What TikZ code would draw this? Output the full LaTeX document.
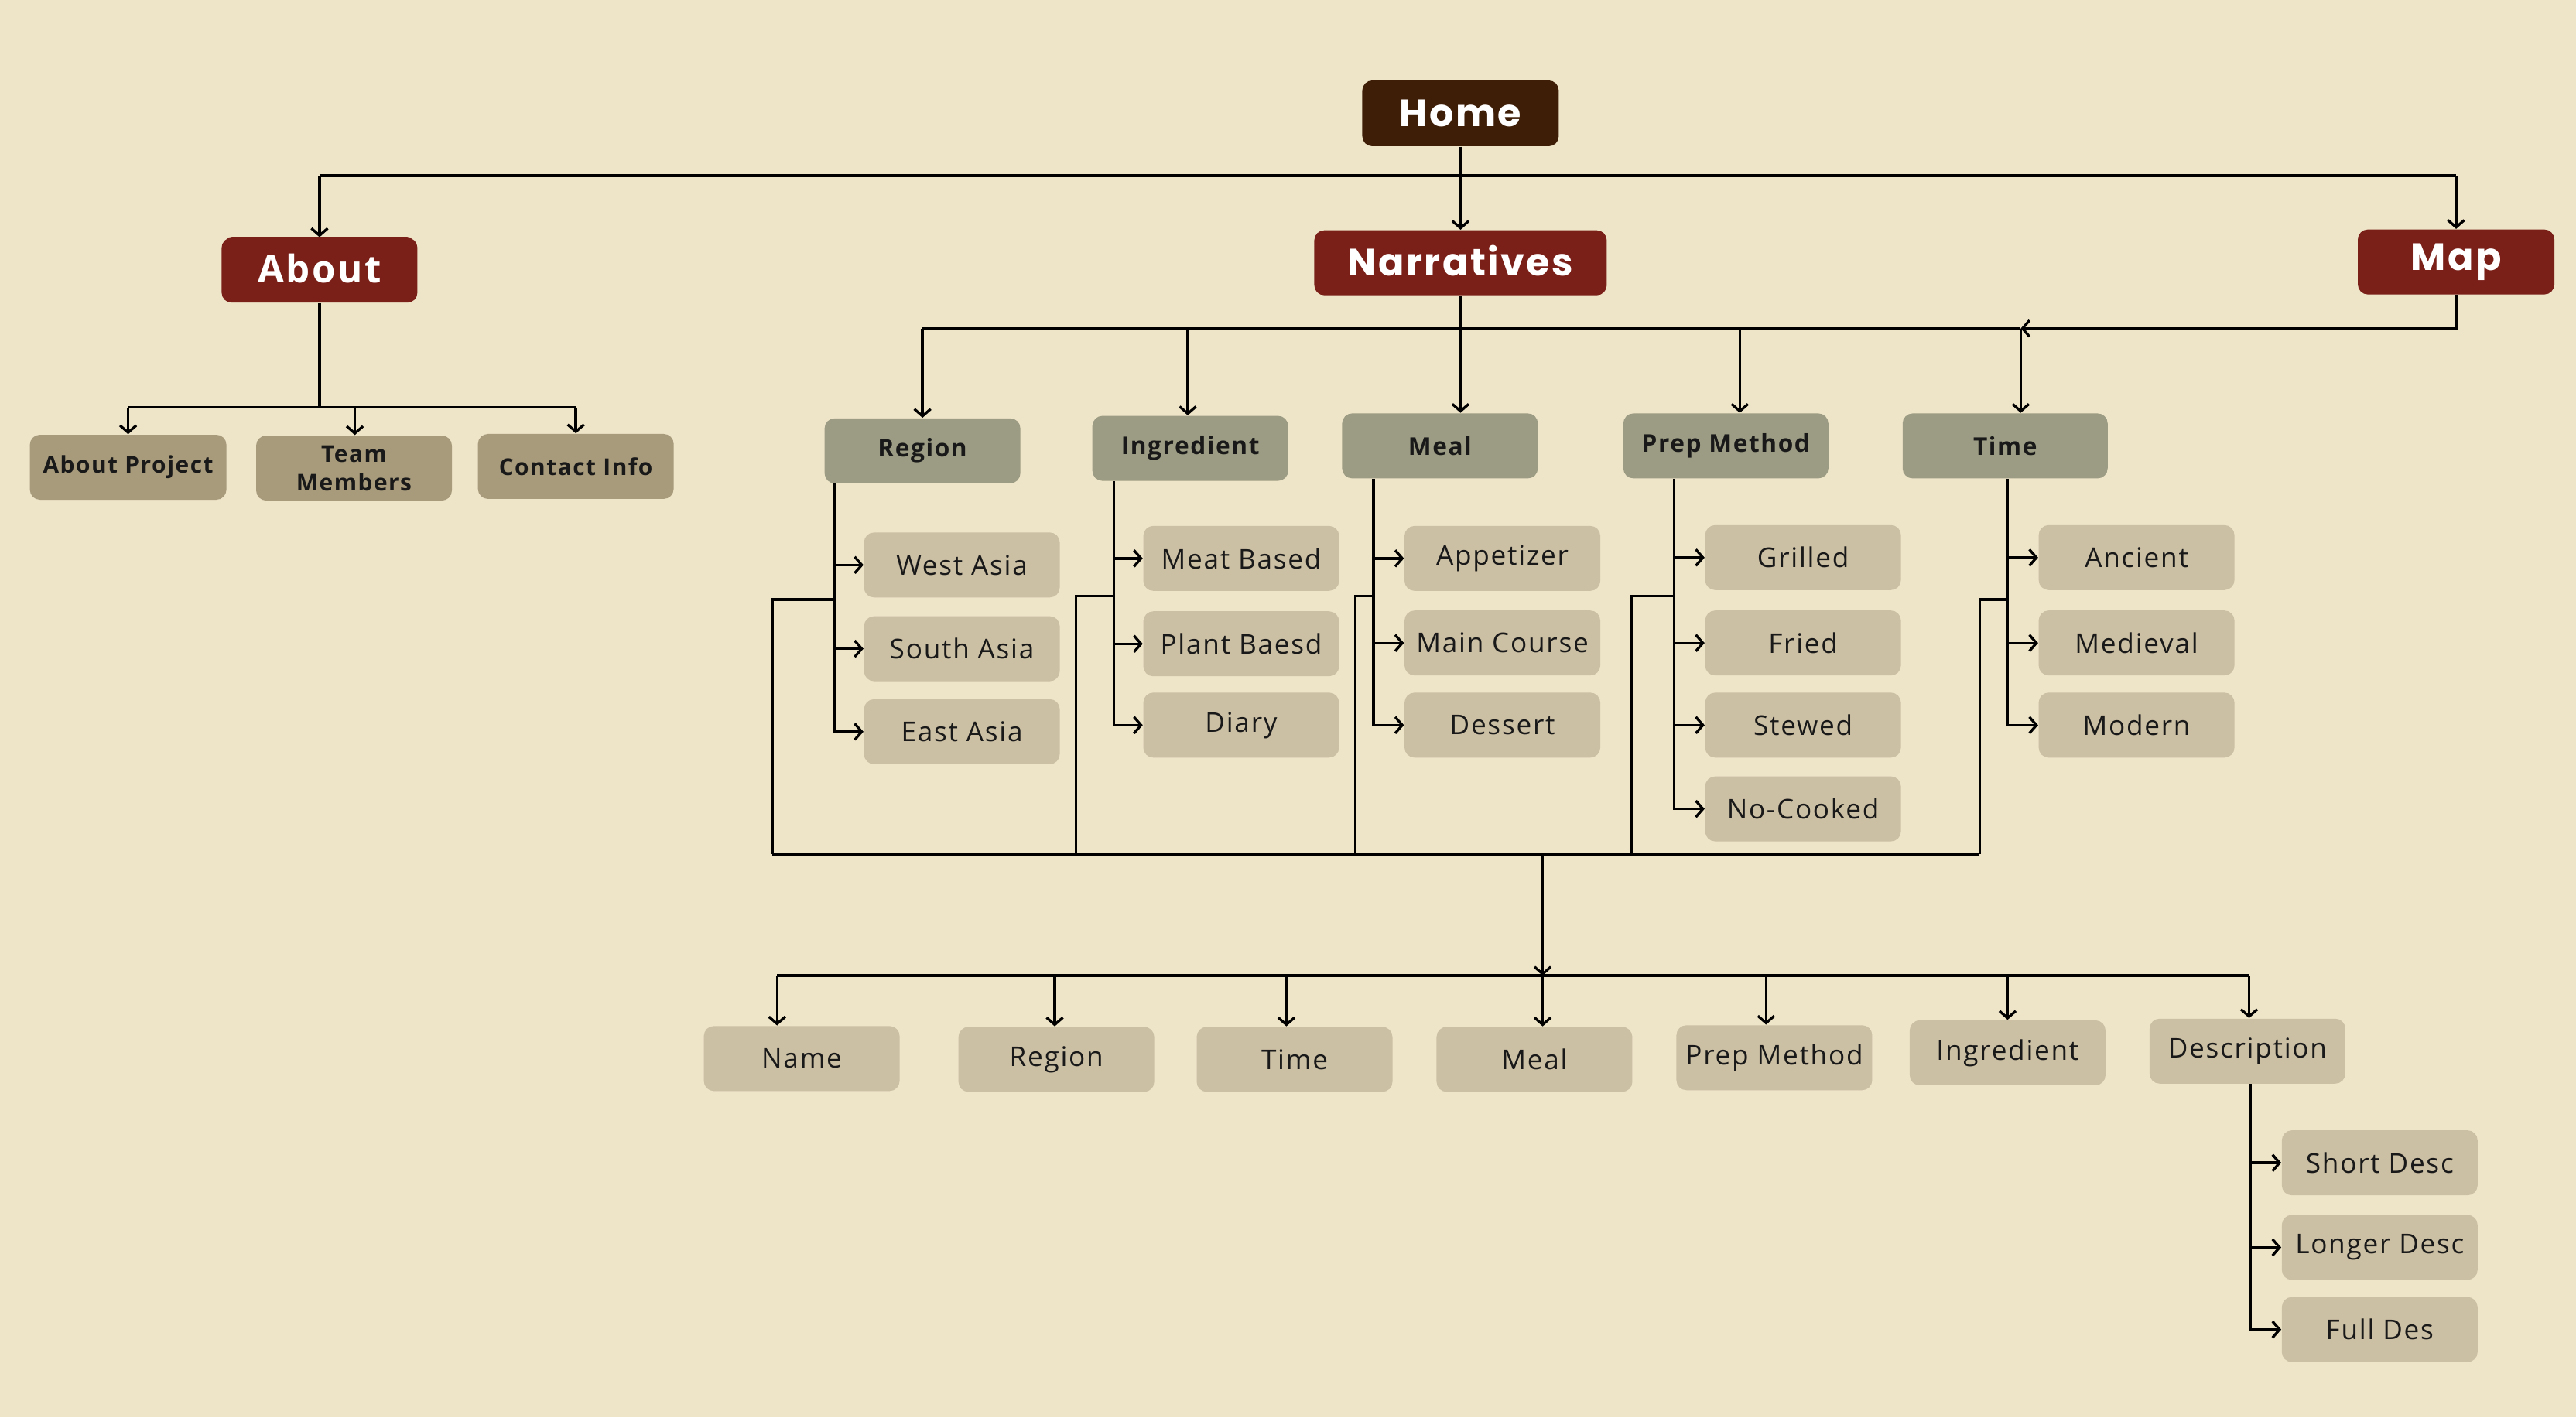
\documentclass[tikz,border=0pt]{standalone}
\usepackage{fontspec}
\setmainfont{Open Sans}
\newfontfamily\popf{Poppins}[LetterSpace=5]
\newfontfamily\opf{Open Sans}[LetterSpace=5]
\usetikzlibrary{arrows.meta,calc}
\definecolor{bgc}{HTML}{EEE4C8}
\definecolor{homec}{HTML}{3F1E08}
\definecolor{maroonc}{HTML}{7A2019}
\definecolor{lvtwo}{HTML}{9C9C84}
\definecolor{aboutc}{HTML}{A89B7C}
\definecolor{subc}{HTML}{CBBFA4}
\begin{document}
\begin{tikzpicture}[x=0.21231mm,y=-0.21231mm,
  box/.style={rounded corners=1.3mm, minimum width=25.4mm, minimum height=8.4mm, inner sep=0pt, align=center},
  homebox/.style={box, fill=homec, text=white, minimum height=8.5mm, font=\popf\bfseries\fontsize{14}{16}\selectfont},
  topbox/.style={box, fill=maroonc, text=white, font=\popf\bfseries\fontsize{14}{16}\selectfont},
  aboutbox/.style={box, fill=maroonc, text=white, font=\opf\bfseries\fontsize{14}{16}\selectfont},
  catbox/.style={box, fill=lvtwo, text=black!90, font=\opf\bfseries\fontsize{9}{11}\selectfont},
  abchild/.style={box, fill=aboutc, text=black!90, font=\opf\bfseries\fontsize{8.5}{10.5}\selectfont},
  subbox/.style={box, fill=subc, text=black!90, minimum width=25.3mm, font=\opf\fontsize{10}{12}\selectfont},
  ln/.style={line width=0.95pt, draw=black},
  arr/.style={ln, -{Straight Barb[length=2.6pt,width=6pt]}}
]
\fill[bgc] (0,0) rectangle (1568,863);
\useasboundingbox (0,0) rectangle (1568,863);

% top level
\node[homebox] (home) at (889,69) {Home};
\node[aboutbox, minimum width=25.3mm] (about) at (194.5,164.5) {\raisebox{1.2pt}{About}};
\node[topbox, minimum width=37.8mm] (narr) at (889,160) {\raisebox{1.5pt}{Narratives}};
\node[topbox] (map) at (1495,159.5) {\raisebox{1.5pt}{Map}};

% about children
\node[abchild] (aproj) at (78,284.5) {\raisebox{-2pt}{About Project}};
\node[abchild, minimum width=25.3mm] (ateam) at (215.5,285) {Team\\Members};
\node[abchild, minimum width=25.3mm] (acont) at (350.5,284) {Contact Info};

% categories
\node[catbox, minimum width=25.3mm] (region) at (561.5,274.5) {Region};
\node[catbox, minimum width=25.3mm] (ingr) at (724.5,273) {Ingredient};
\node[catbox, minimum width=25.3mm] (meal) at (876.5,271.5) {Meal};
\node[catbox, minimum width=26.5mm] (prep) at (1050.5,271.5) {Prep Method};
\node[catbox, minimum width=26.5mm] (time) at (1220.5,271.5) {Time};

% region items
\node[subbox] (rwest) at (585.5,344) {West Asia};
\node[subbox] (rsouth) at (585.5,395) {South Asia};
\node[subbox] (reast) at (585.5,445.5) {East Asia};
% ingredient items
\node[subbox] (imeat) at (755.5,340) {\raisebox{-2.5pt}{Meat Based}};
\node[subbox] (iplant) at (755.5,392) {\raisebox{-1.5pt}{Plant Baesd}};
\node[subbox] (idiary) at (755.5,441.5) {Diary};
% meal items
\node[subbox] (mapp) at (914.5,340) {Appetizer};
\node[subbox] (mmain) at (914.5,391.5) {Main Course};
\node[subbox] (mdes) at (914.5,441.5) {Dessert};
% prep items
\node[subbox] (pgrill) at (1097.5,339.5) {Grilled};
\node[subbox] (pfried) at (1097.5,391.5) {Fried};
\node[subbox] (pstew) at (1097.5,441.5) {Stewed};
\node[subbox] (pno) at (1097.5,492.5) {No-Cooked};
% time items
\node[subbox] (tanc) at (1300.5,339.5) {\raisebox{-1.5pt}{Ancient}};
\node[subbox] (tmed) at (1300.5,391.5) {Medieval};
\node[subbox] (tmod) at (1300.5,441.5) {Modern};

% bottom fields
\node[subbox] (fname) at (488,644.5) {Name};
\node[subbox] (fregion) at (643,645) {Region};
\node[subbox] (ftime) at (788,645) {Time};
\node[subbox] (fmeal) at (934,645) {Meal};
\node[subbox] (fprep) at (1080,644) {Prep Method};
\node[subbox] (fingr) at (1222,641) {Ingredient};
\node[subbox] (fdesc) at (1368,640) {\raisebox{-2.5pt}{Description}};
\node[subbox] (dshort) at (1448.5,708) {\raisebox{-1.5pt}{Short Desc}};
\node[subbox] (dlong) at (1448.5,759.5) {Longer Desc};
\node[subbox] (dfull) at (1448.5,809.5) {Full Des};

% ---- connectors: top
\coordinate (tbL) at (194.5,107);
\coordinate (tbR) at (1495,107);
\draw[ln] (tbL) -- (tbR);
\draw[arr] (home) -- (narr);
\draw[arr] (tbL) -- (about);
\draw[arr] (tbR) -- (map);

% about children
\coordinate (abM) at (194.5,248);
\coordinate (abL) at (78,248);
\coordinate (abT) at (216,248);
\coordinate (abR) at (350.5,248);
\draw[ln] (about) -- (abM);
\draw[ln] (abL) -- (abR);
\draw[arr] (abL) -- (aproj);
\draw[arr] (abT) -- (abT |- ateam.north);
\draw[arr] (abR) -- (acont);

% narratives bus
\coordinate (nbL) at (561.5,200);
\coordinate (nI) at (723,200);
\coordinate (nP) at (1059,200);
\coordinate (nbR) at (1230,200);
\draw[ln] (nbL) -- (nbR);
\draw[arr] (narr) -- (narr.south |- meal.north);
\draw[arr] (nbL) -- (region);
\draw[arr] (nI) -- (nI |- ingr.north);
\draw[arr] (nP) -- (nP |- prep.north);
\draw[arr] (nbR) -- (nbR |- time.north);
\draw[arr] (map.south) |- (nbR);

% spines
\coordinate (rsp) at (508,0);
\draw[arr] (rsp |- region.south) |- (reast);
\draw[arr] (rsp |- rwest) -- (rwest);
\draw[arr] (rsp |- rsouth) -- (rsouth);

\coordinate (isp) at (678,0);
\draw[arr] (isp |- ingr.south) |- (idiary);
\draw[arr] (isp |- imeat) -- (imeat);
\draw[arr] (isp |- iplant) -- (iplant);

\coordinate (msp) at (836,0);
\draw[arr] (msp |- meal.south) |- (mdes);
\draw[arr] (msp |- mapp) -- (mapp);
\draw[arr] (msp |- mmain) -- (mmain);

\coordinate (psp) at (1019,0);
\draw[arr] (psp |- prep.south) |- (pno);
\draw[arr] (psp |- pgrill) -- (pgrill);
\draw[arr] (psp |- pfried) -- (pfried);
\draw[arr] (psp |- pstew) -- (pstew);

\coordinate (tsp) at (1222,0);
\draw[arr] (tsp |- time.south) |- (tmod);
\draw[arr] (tsp |- tanc) -- (tanc);
\draw[arr] (tsp |- tmed) -- (tmed);

% gather bracket
\coordinate (gL) at (470,520);
\coordinate (gR) at (1205,520);
\coordinate (gM) at (939,520);
\coordinate (rg) at (508,365);
\coordinate (ig) at (678,363);
\coordinate (mg) at (836,363);
\coordinate (pg) at (1019,363);
\coordinate (tg) at (1222,365);
\draw[ln] (rg) -| (gL);
\draw[ln] (ig) -| (655,520);
\draw[ln] (mg) -| (825,520);
\draw[ln] (pg) -| (993,520);
\draw[ln] (tg) -| (gR);
\draw[ln] (gL) -- (gR);

% bottom bus
\coordinate (bM) at (939,594);
\coordinate (b1) at (473,594);
\coordinate (b2) at (642,594);
\coordinate (b3) at (783,594);
\coordinate (b5) at (1075,594);
\coordinate (b6) at (1222,594);
\coordinate (b7) at (1369,594);
\draw[arr] (gM) -- (bM);
\draw[ln] (b1) -- (b7);
\draw[arr] (b1) -- (b1 |- fname.north);
\draw[arr] (b2) -- (b2 |- fregion.north);
\draw[arr] (b3) -- (b3 |- ftime.north);
\draw[arr] (bM) -- (bM |- fmeal.north);
\draw[arr] (b5) -- (b5 |- fprep.north);
\draw[arr] (b6) -- (b6 |- fingr.north);
\draw[arr] (b7) -- (b7 |- fdesc.north);

% description spine
\coordinate (dsp) at (1370,0);
\draw[arr] (dsp |- fdesc.south) |- (dfull);
\draw[arr] (dsp |- dshort) -- (dshort);
\draw[arr] (dsp |- dlong) -- (dlong);
\end{tikzpicture}
\end{document}
